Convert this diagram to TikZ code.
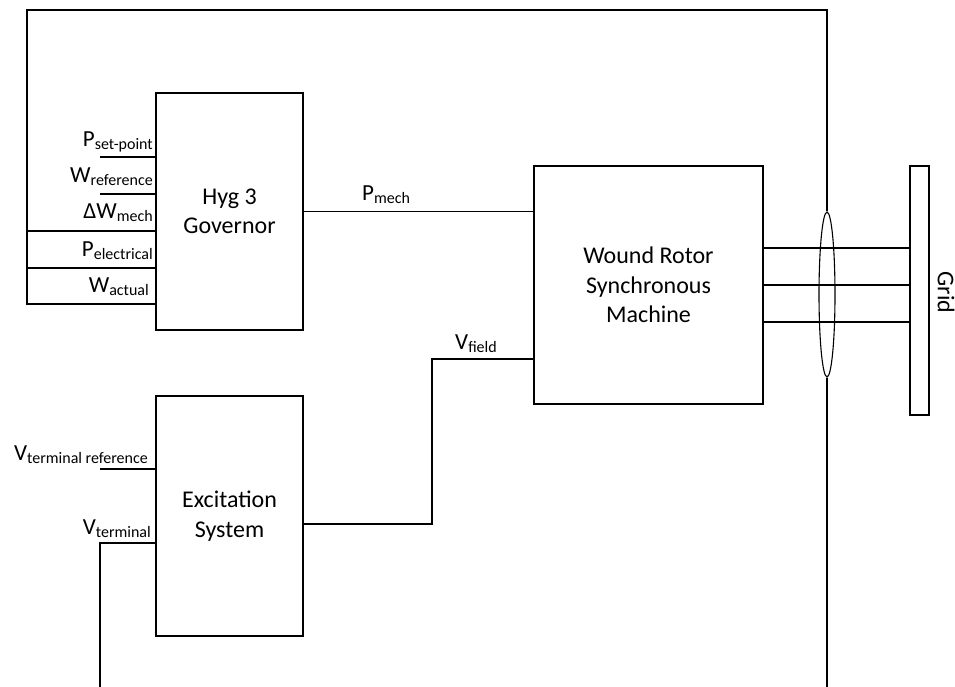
\documentclass[tikz,border=0pt]{standalone}
\usepackage{fontspec}
\setmainfont{Carlito}
\usetikzlibrary{shapes.geometric,calc}
\newcommand\sublbl[2]{#1\raisebox{-3pt}{\fontsize{16}{17}\selectfont #2}}
\tikzset{
  blockbox/.style={draw, line width=1.4pt, rectangle, inner sep=0pt, align=center,
                   font=\fontsize{24}{29.5}\selectfont},
  wire/.style={line width=1.4pt},
  lbl/.style={inner sep=0pt, font=\fontsize{23}{26}\selectfont}
}
\begin{document}
\begin{tikzpicture}[x=1pt,y=-1pt]
\useasboundingbox (0,0) rectangle (955,686);
% blocks
\node[blockbox, minimum width=147pt, minimum height=237pt] (gov) at (229.5,211.5) {Hyg 3\\Governor};
\node[blockbox, minimum width=147pt, minimum height=240pt] (exc) at (229.5,516) {Excitation\\System};
\node[blockbox, minimum width=229pt, minimum height=238pt] (mach) at (648.5,285) {Wound Rotor\\Synchronous\\Machine};
\node[draw, line width=1.4pt, rectangle, inner sep=0pt, minimum width=19pt, minimum height=249pt] (grid) at (919.5,290.5) {};
\node[inner sep=0pt, rotate=-90, font=\fontsize{24}{26}\selectfont] (gridtxt) at (946,292.5) {Grid};
\node[draw, line width=1.1pt, ellipse, inner sep=0pt, minimum width=16pt, minimum height=165pt] (ring) at (827,294.5) {};
% coordinates
\coordinate (topR) at (827,10);
\coordinate (topL) at (27,10);
\coordinate (loopB) at (27,304);
\coordinate (botR) at (827,690);
\coordinate (psIn) at (100,157);
\coordinate (wrIn) at (100,194);
\coordinate (dwIn) at (27,231);
\coordinate (peIn) at (27,268);
\coordinate (vrIn) at (100,469);
\coordinate (vtIn) at (100,543);
\coordinate (vtB) at (100,690);
\coordinate (vfc) at (432,359);
% three-phase connection
\draw[wire] (mach.east) -- (mach.east -| grid.west);
\draw[wire] ([yshift=37pt]mach.east) -- ([yshift=37pt]mach.east -| grid.west);
\draw[wire] ([yshift=-37pt]mach.east) -- ([yshift=-37pt]mach.east -| grid.west);
% feedback loop
\draw[wire] (ring.north) -- (topR) -- (topL) -- (loopB) -- (loopB -| gov.west);
\draw[wire] (ring.south) -- (botR);
\draw[wire] (dwIn) -- (dwIn -| gov.west);
\draw[wire] (peIn) -- (peIn -| gov.west);
% governor inputs
\draw[wire] (psIn) -- (psIn -| gov.west);
\draw[wire] (wrIn) -- (wrIn -| gov.west);
% excitation inputs
\draw[wire] (vrIn) -- (vrIn -| exc.west);
\draw[wire] (vtB) -- (vtIn) -- (vtIn -| exc.west);
% governor to machine
\draw[wire] (gov.east) -- (gov.east -| mach.west);
% excitation to machine
\draw[wire] ([yshift=-8pt]exc.east) -| (vfc) -- (vfc -| mach.west);
% labels
\node[lbl, anchor=base east] (lps) at (153,146) {\sublbl{P}{set-point}};
\node[lbl, anchor=base east] (lwr) at (153,182) {\sublbl{W}{reference}};
\node[lbl, anchor=base east] (ldw) at (153,218) {\sublbl{ΔW}{mech}};
\node[lbl, anchor=base east] (lpe) at (153,256) {\sublbl{P}{electrical}};
\node[lbl, anchor=base east] (lwa) at (149,292) {\sublbl{W}{actual}};
\node[lbl, anchor=base east] (lvr) at (148,460) {\sublbl{V}{terminal reference}};
\node[lbl, anchor=base east] (lvt) at (151,534) {\sublbl{V}{terminal}};
\node[lbl, anchor=base west] (lpm) at (362,200) {\sublbl{P}{mech}};
\node[lbl, anchor=base west] (lvf) at (455,349) {\sublbl{V}{field}};
\end{tikzpicture}
\end{document}
